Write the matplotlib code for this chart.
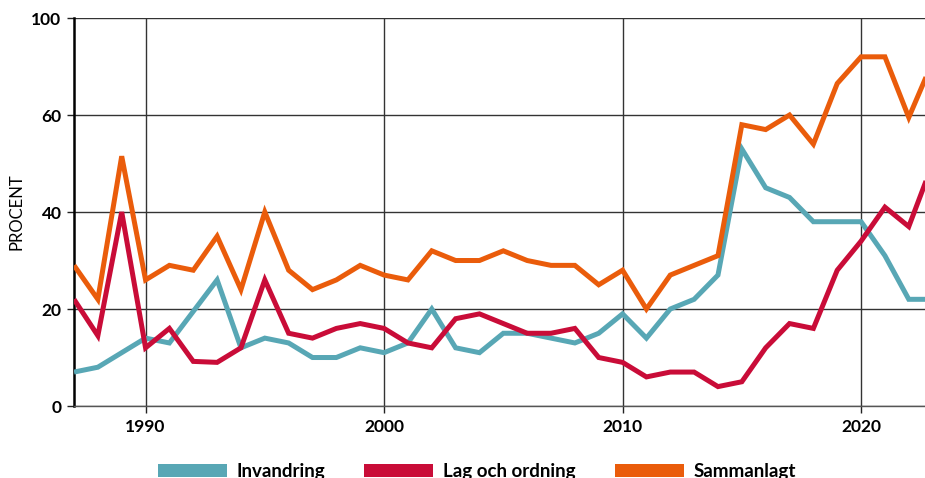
import matplotlib
matplotlib.use('Agg')
import matplotlib.pyplot as plt
from matplotlib.patches import Patch
import numpy as np

plt.rcParams['font.family'] = ['Lato', 'DejaVu Sans']

years = list(range(1987, 2024))

invandring = [7, 8, 11, 14, 13, 19.5, 26, 12, 14, 13, 10, 10, 12, 11,
              13, 20, 12, 11, 15, 15, 14, 13, 15, 19, 14, 20, 22, 27,
              53, 45, 43, 38, 38, 38, 31, 22, 22]
lag_och_ordning = [22, 14.5, 40, 12, 16, 9.2, 9, 12, 26, 15, 14, 16, 17, 16,
                   13, 12, 18, 19, 17, 15, 15, 16, 10, 9, 6, 7, 7, 4,
                   5, 12, 17, 16, 28, 34, 41, 37, 50]
sammanlagt = [29, 22, 51.5, 26, 29, 28, 35, 24, 40, 28, 24, 26, 29, 27,
              26, 32, 30, 30, 32, 30, 29, 29, 25, 28, 20, 27, 29, 31,
              58, 57, 60, 54, 66.5, 72, 72, 59.5, 71]

series = [("Invandring", invandring, '#58a7b5'),
          ("Lag och ordning", lag_och_ordning, '#c90c38'),
          ("Sammanlagt", sammanlagt, '#ea5c0b')]

ytick_pos = [0, 20, 40, 60, 80]
ytick_labels = ['0', '20', '40', '60', '100']
xtick_pos = [1990, 2000, 2010, 2020]

fig = plt.figure(figsize=(9.25, 4.78), dpi=100)
ax = fig.add_axes([0.08, 0.1506, 0.92, 0.8117])

for name, vals, col in series:
    ax.plot(years, vals, color=col, linewidth=3.6, solid_joinstyle='miter',
            solid_capstyle='butt', zorder=3)

ax.set_xlim(1987, 2022.68)
ax.set_ylim(0, 80)
ax.set_yticks(ytick_pos)
ax.set_yticklabels(ytick_labels, fontweight='bold', fontsize=12.5)
ax.set_xticks(xtick_pos)
ax.set_xticklabels([str(x) for x in xtick_pos], fontweight='bold', fontsize=12.5)
ax.tick_params(axis='both', direction='out', length=5, width=1, color='#222222', pad=4)

ax.grid(True, color='#333333', linewidth=1.0, zorder=1)
ax.set_axisbelow(True)

for s in ['right', 'top']:
    ax.spines[s].set_visible(False)
ax.spines['left'].set_linewidth(1.8)
ax.spines['left'].set_color('black')
ax.spines['bottom'].set_linewidth(1.0)
ax.spines['bottom'].set_color('#555555')

ax.set_ylabel('PROCENT', fontsize=12)
ax.yaxis.set_label_coords(-0.058, 0.5)

handles = [Patch(facecolor=c, edgecolor='none', label=n) for n, v, c in series]
leg = fig.legend(handles=handles, loc='center', ncol=3, frameon=False,
                 bbox_to_anchor=(0.5157, 0.014), handlelength=3.68, handleheight=0.69,
                 columnspacing=2.08, handletextpad=0.53, borderpad=0,
                 prop={'weight': 'bold', 'size': 13.5})

fig.savefig('out.png', dpi=100)
